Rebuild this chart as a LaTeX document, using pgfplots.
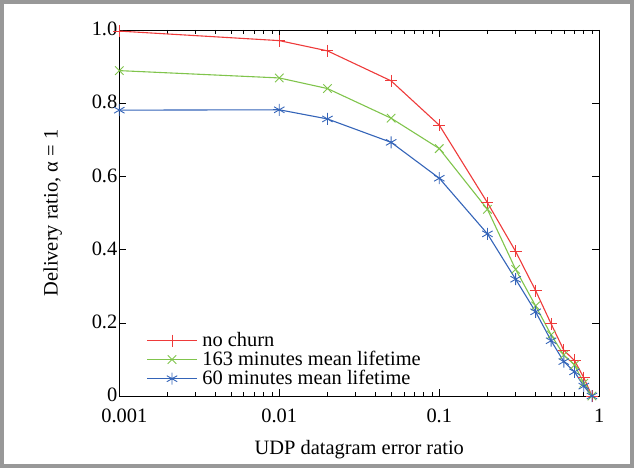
\documentclass[border=0pt]{standalone}
\usepackage{pgfplots}
\pgfplotsset{compat=1.18}
\usepackage{pgfplotstable}
\usepackage{fontspec}
\setmainfont{Liberation Serif}
\definecolor{cred}{RGB}{238,58,58}
\definecolor{cgreen}{RGB}{128,196,76}
\definecolor{cblue}{RGB}{52,100,184}
\definecolor{cframe}{RGB}{152,152,152}
\pgfplotstableread{
x y
0.001 0.997
0.01 0.971
0.02 0.943
0.05 0.861
0.1 0.740
0.2 0.528
0.3 0.395
0.4 0.288
0.5 0.197
0.6 0.125
0.7 0.097
0.8 0.050
0.9 0.0
}\nochurn
\pgfplotstableread{
x y
0.001 0.889
0.01 0.869
0.02 0.840
0.05 0.759
0.1 0.676
0.2 0.510
0.3 0.346
0.4 0.246
0.5 0.167
0.6 0.112
0.7 0.085
0.8 0.035
0.9 0.0
}\lifeA
\pgfplotstableread{
x y
0.001 0.781
0.01 0.782
0.02 0.757
0.05 0.693
0.1 0.595
0.2 0.443
0.3 0.319
0.4 0.230
0.5 0.151
0.6 0.094
0.7 0.066
0.8 0.027
0.9 0.0
}\lifeB
\begin{document}
\fontsize{20.5}{24}\selectfont
\begin{tikzpicture}
\useasboundingbox (-119.3bp,-72bp) rectangle (514.7bp,396bp);
\draw[cframe, line width=4bp] (-117.3bp,-70bp) rectangle (512.7bp,394bp);
\begin{axis}[
  at={(0,0)}, anchor=south west,
  scale only axis, width=480bp, height=366bp,
  xmode=log, xmin=0.001, xmax=1, ymin=0, ymax=1,
  xtick={0.001,0.01,0.1,1}, xticklabels={\hspace*{10bp}0.001,0.01,0.1,1},
  ytick={0,0.2,0.4,0.6,0.8,1}, yticklabels={0,0.2,0.4,0.6,0.8,1.0},
  tick align=inside, major tick length=7bp, minor tick length=4bp,
  axis line style={line width=0.8bp},
  every tick/.style={black, line width=0.6bp},
  ticklabel style={font=\fontsize{20.5}{24}\selectfont},
  xticklabel style={yshift=-6bp},
  yticklabel style={xshift=5bp, yshift=1bp},
  label style={font=\fontsize{20.5}{24}\selectfont},
  xlabel={UDP datagram error ratio},
  xlabel style={yshift=-4bp},
  ylabel={Delivery ratio, α = 1},
  ylabel style={yshift=16bp},
  legend cell align=left,
  legend style={at={(rel axis cs:0.05,0.012)}, anchor=south west, draw=none, fill=none,
    font=\fontsize{20.5}{20}\selectfont, row sep=-2.3bp, nodes={inner xsep=4.8bp}},
  legend image code/.code={\draw[mark repeat=2,mark phase=2,#1] plot coordinates {(0bp,0bp) (25bp,0bp) (50bp,0bp)};},
  every axis plot/.append style={line width=1.1bp, mark size=6bp, mark options={line width=0.9bp}},
]
\addplot[cred, mark=+] table[x=x,y=y] {\nochurn};
\addlegendentry{no churn}
\addplot[cgreen, mark=x] table[x=x,y=y] {\lifeA};
\addlegendentry{163 minutes mean lifetime}
\addplot[cblue, mark=asterisk] table[x=x,y=y] {\lifeB};
\addlegendentry{60 minutes mean lifetime}
\end{axis}
\end{tikzpicture}
\end{document}
